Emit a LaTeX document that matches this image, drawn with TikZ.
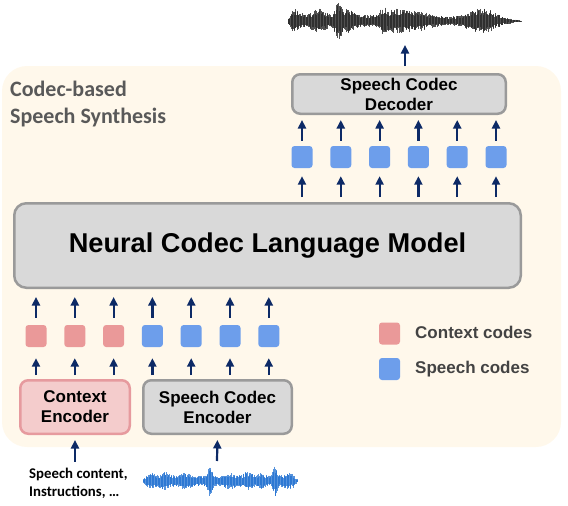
\documentclass[tikz,border=0pt]{standalone}
\usepackage{fontspec}
\setmainfont{Liberation Sans}
\newfontfamily\calibri{Carlito}
\usetikzlibrary{arrows.meta, positioning, calc}
\definecolor{bgcream}{HTML}{FFF8EB}
\definecolor{navy}{HTML}{0D2A66}
\definecolor{ctxpink}{HTML}{EA9999}
\definecolor{ctxfill}{HTML}{F4CCCC}
\definecolor{ctxborder}{HTML}{E69A9E}
\definecolor{spcblue}{HTML}{6D9EEB}
\definecolor{boxfill}{HTML}{D9D9D9}
\definecolor{boxgray}{HTML}{9A9A9A}
\definecolor{titlegray}{HTML}{595959}
\definecolor{leggray}{HTML}{434343}
\definecolor{wavedark}{HTML}{262626}
\definecolor{waveblue}{HTML}{1F6FD0}

\begin{document}
\begin{tikzpicture}[x=1pt, y=-1pt,
  declare function={bump(\q,\m,\s)=exp(-min(((\q-\m)/\s)*((\q-\m)/\s),9));},
  arr/.style={-{Triangle[length=8.5pt,width=8pt]}, line width=2.2pt, draw=navy},
  box/.style={draw=boxgray, fill=boxfill, line width=2.5pt, rounded corners=8pt,
    align=center, inner sep=0pt, font=\fontsize{17}{20}\selectfont\bfseries},
  code/.style={minimum width=21pt, minimum height=22pt, rounded corners=3pt, inner sep=0pt},
  legend/.style={font=\fontsize{17}{20}\selectfont\bfseries, text=leggray, inner sep=0pt},
  title/.style={font=\calibri\bfseries\fontsize{22}{27}\selectfont, text=titlegray, align=left, inner sep=0pt},
  intxt/.style={font=\calibri\bfseries\fontsize{14.8}{18}\selectfont, align=left, inner sep=0pt},
  darkwave/.style={draw=wavedark, line width=1pt, opacity=0.8},
  bluewave/.style={draw=waveblue, line width=1pt, opacity=0.75}]
\useasboundingbox (0,0) rectangle (568,506);
% Background panel
\fill[bgcream, rounded corners=25pt] (2,66) rectangle (561,447);
\node[title, anchor=north west] (title) at (10,80.5) {Codec-based\\Speech Synthesis};
% Main blocks
\node[box, minimum width=213.5pt, minimum height=39.5pt] (dec) at (399,94) {Speech Codec\\Decoder};
\node[box, rounded corners=12pt, minimum width=506.5pt, minimum height=84.5pt,
  font=\fontsize{27.2}{30}\selectfont\bfseries] (lm) at (267.5,245.5) {Neural Codec Language Model};
\node[box, draw=ctxborder, fill=ctxfill, minimum width=109.5pt, minimum height=53.5pt] (ctxenc) at (75,407) {Context\\Encoder};
\node[box, minimum width=148.5pt, minimum height=53.5pt] (spcenc) at (217.5,407) {Speech Codec\\Encoder};
% Output codes
\foreach \i in {1,...,6} {
  \node[code, fill=spcblue] (up\i) at ({302+38.8*(\i-1)},157) {};
  \draw[arr, shorten <=5pt, shorten >=8pt] (lm.north -| up\i) -- (up\i.south);
  \draw[arr, shorten <=5pt, shorten >=5pt] (up\i.north) -- (dec.south -| up\i);
}
% Input codes
\foreach \i/\col/\enc in {1/ctxpink/ctxenc, 2/ctxpink/ctxenc, 3/ctxpink/ctxenc,
  4/spcblue/spcenc, 5/spcblue/spcenc, 6/spcblue/spcenc, 7/spcblue/spcenc} {
  \node[code, fill=\col] (lo\i) at ({36+38.8*(\i-1)},336) {};
  \draw[arr, shorten <=4pt, shorten >=11pt] (\enc.north -| lo\i) -- (lo\i.south);
  \draw[arr, shorten <=7pt, shorten >=8pt] (lo\i.north) -- (lm.south -| lo\i);
}
% Legend
\node[code, fill=ctxpink] (legctx) at (389.5,333.5) {};
\node[legend, anchor=base west] (legctxtxt) at (415,338) {Context codes};
\node[code, fill=spcblue] (legspc) at (389.5,369) {};
\node[legend, anchor=base west] (legspctxt) at (415,373) {Speech codes};
% Inputs
\node[intxt, anchor=north west] (inputtxt) at (29,467.5) {Speech content,\\Instructions, …};
\draw[arr, shorten <=6pt, shorten >=5pt] (inputtxt.north -| ctxenc.south) -- (ctxenc.south);
\coordinate (wavin) at (217,461);
\draw[arr, shorten >=5pt] (wavin) -- (spcenc.south);
\coordinate (wavout) at (405,45);
\draw[arr, shorten <=7pt] (dec.north -| wavout) -- (wavout);
% Output waveform
\pgfmathsetseed{11}
\foreach \x in {288,288.6,...,522} {
  \pgfmathsetmacro\env{(6+6*bump(\x,296,6)+7*bump(\x,318,8)+13*bump(\x,338,3.5)+6*bump(\x,347,9)
    +7*bump(\x,383,3.5)+6*bump(\x,395,12)+4*bump(\x,416,14)-1.5*bump(\x,450,12)+7*bump(\x,482,14))
    *min(1,(523-\x)/30)*min(1,(\x-286)/5)}
  \pgfmathsetmacro\up{\env*(0.45+0.55*rnd)}
  \pgfmathsetmacro\dn{\env*(0.45+0.55*rnd)}
  \draw[darkwave] (\x,21-\up) -- (\x,21+\dn);
}
% Input waveform
\pgfmathsetseed{5}
\foreach \x in {143,143.6,...,298} {
  \pgfmathsetmacro\env{(5.5+3*bump(\x,152,4)+4*bump(\x,165,5)+3*bump(\x,185,6)+11*bump(\x,210,2.5)
    +3*bump(\x,230,5)+4*bump(\x,248,6)+3*bump(\x,262,4)+11*bump(\x,275,2.5)+3*bump(\x,288,5))
    *min(1,(299-\x)/6)*min(1,(\x-141)/5)}
  \pgfmathsetmacro\up{\env*(0.45+0.55*rnd)}
  \pgfmathsetmacro\dn{\env*(0.45+0.55*rnd)}
  \draw[bluewave] (\x,481-\up) -- (\x,481+\dn);
}
\end{tikzpicture}
\end{document}
